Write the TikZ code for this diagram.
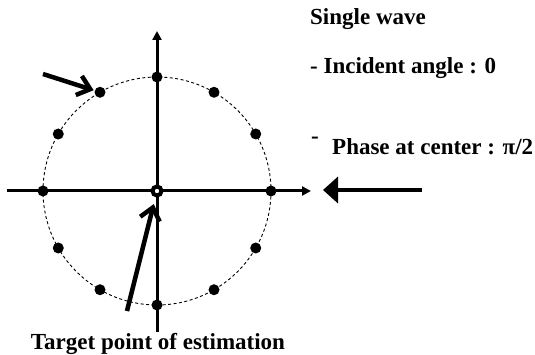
\documentclass[tikz,border=0pt]{standalone}
\usepackage{fontspec}
\setmainfont{Liberation Serif}
\usetikzlibrary{arrows.meta}
\begin{document}
\begin{tikzpicture}[x=1pt,y=-1pt,
  axis/.style={line width=3pt,-{Triangle[length=9pt,width=9pt]}},
  dotnode/.style={circle,fill=black,inner sep=0pt,minimum size=11pt},
  ptr/.style={line width=4.5pt,-{Straight Barb[length=12pt,width=20pt]}},
  wave/.style={line width=4pt,-{Triangle[length=15pt,width=26pt]}},
  txt/.style={inner sep=0pt,font=\bfseries\fontsize{23}{26}\selectfont},
  lbl/.style={txt,anchor=base west}]
\useasboundingbox (0,0) rectangle (535,355);
% dashed circle
\draw[line width=0.9pt,dash pattern=on 3pt off 2.5pt] (157,191) circle[radius=114];
% axes
\coordinate (hL) at (7,191);
\coordinate (hR) at (311,191);
\coordinate (vB) at (157,332);
\coordinate (vT) at (157,31);
\draw[axis] (hL) -- (hR);
\draw[axis] (vB) -- (vT);
% sensor dots
\foreach \a in {0,30,...,330}
  \node[dotnode] (d\a) at ({157+114*cos(\a)},{191-114*sin(\a)}) {};
% target point
\node[circle,draw,line width=4pt,fill=white,inner sep=0pt,minimum size=9pt] (c) at (157,191) {};
% pointers
\coordinate (p1) at (43,74);
\draw[ptr,shorten >=1pt] (p1) -- (d120);
\coordinate (p2) at (127,311);
\draw[ptr,shorten >=7pt] (p2) -- (c);
% incoming wave
\coordinate (w1) at (422,190);
\coordinate (w2) at (323,190);
\draw[wave] (w1) -- (w2);
% labels
\node[lbl] (t1) at (310,25) {Single wave};
\node[lbl] (t2) at (310,74) {- Incident angle : 0};
\node[lbl] (t3) at (311,144) {-};
\node[lbl] (t4) at (332,155) {Phase at center : π/2};
\node[txt,anchor=base] (t5) at (158,349) {Target point of estimation};
\end{tikzpicture}
\end{document}
